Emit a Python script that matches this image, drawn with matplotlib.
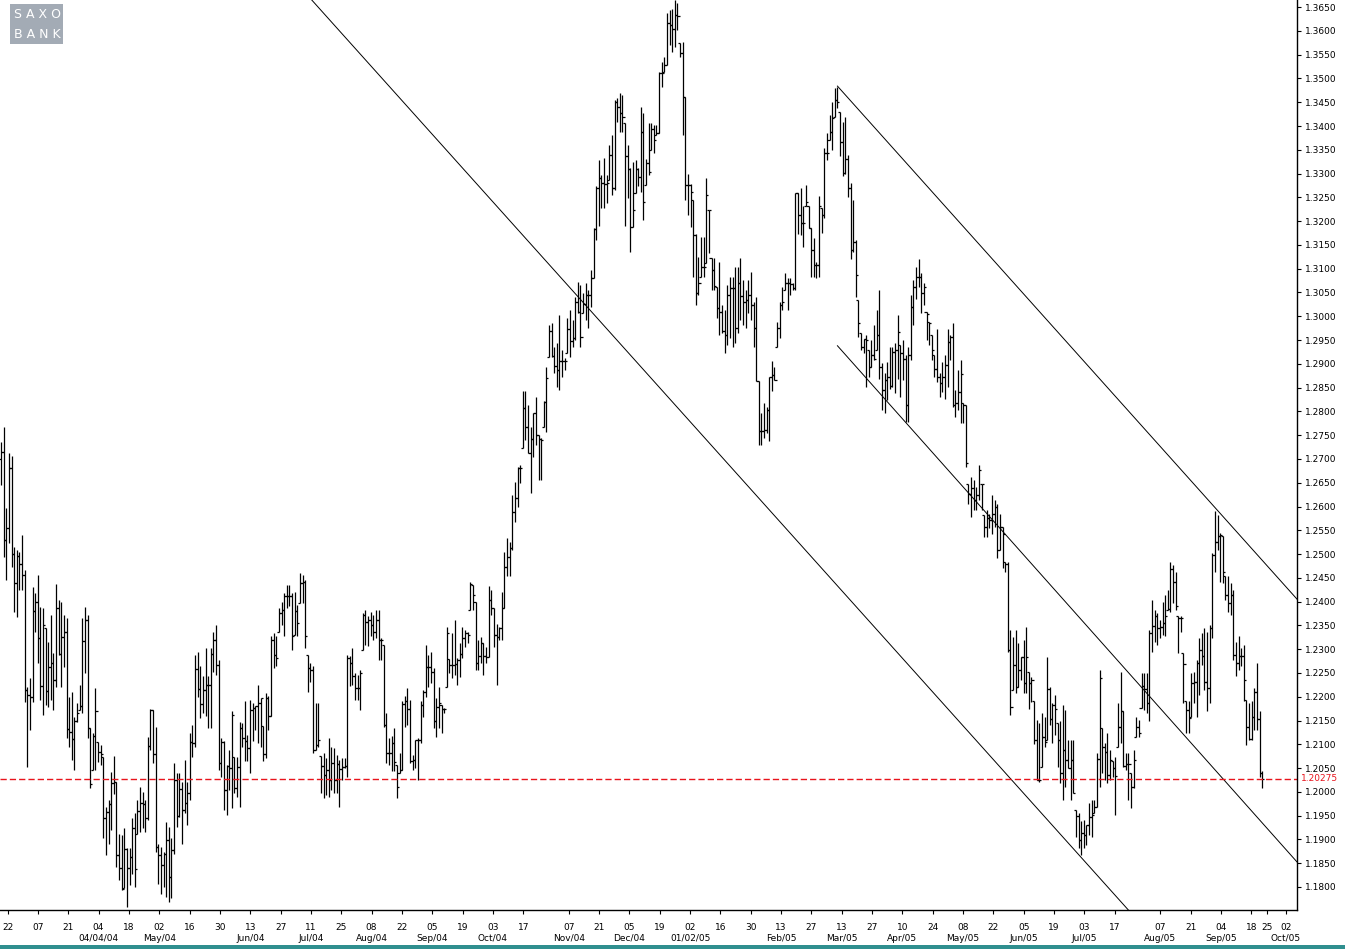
import numpy as np
import pandas as pd
import matplotlib
matplotlib.use("Agg")
import matplotlib.pyplot as plt
import matplotlib.transforms as mtransforms
from matplotlib.patches import Rectangle

# EUR/USD daily bars, in pips (price * 10000)
FIRST_BAR = "2004-02-19"
LAST_BAR = "2005-09-23"

highs = [
    12736, 12767, 12597, 12712, 12706, 12515, 12508, 12504, 12540, 12466, 12221, 12239, 12431, 12418, 12456, 12389,
    12387, 12345, 12315, 12372, 12292, 12437, 12404, 12399, 12372, 12366, 12200, 12210, 12157, 12187, 12225, 12366,
    12389, 12372, 12134, 12124, 12218, 12105, 12099,
    12074, 11968, 11982, 12042, 12075, 12021, 11912, 11909, 11923, 11883, 11881, 11944, 11955, 11982, 12010, 11999,
    11982, 12116, 12175, 12172, 12137, 11891, 11884, 11874, 11937, 11926, 11902, 12060, 12039, 12040, 12021, 12068,
    12021, 12123, 12140, 12287, 12294, 12264,
    12243, 12302, 12243, 12302, 12337, 12351, 12278, 12113, 12106, 12057, 12088, 12169, 12074, 12074, 12146, 12145,
    12190, 12120, 12194, 12187, 12180, 12225, 12197, 12138, 12208, 12201, 12327, 12334, 12327, 12386, 12400, 12418,
    12435, 12435, 12418, 12421, 12393, 12460,
    12456, 12446, 12288, 12270, 12265, 12187, 12187, 12075, 12082, 12071, 12113, 12095, 12092, 12078, 12067, 12071,
    12071, 12288, 12285, 12302, 12250, 12246, 12257, 12376, 12383, 12369, 12379, 12372, 12383, 12383, 12323, 12309,
    12166, 12113, 12117, 12134, 12057, 12081, 12190, 12201, 12218, 12193,
    12078, 12109, 12113, 12190, 12214, 12309, 12288, 12295, 12260, 12197, 12221, 12183, 12176, 12347, 12280, 12333,
    12361, 12281, 12312, 12347, 12340, 12337, 12442, 12435, 12400, 12319, 12326, 12312, 12305, 12432, 12424, 12386,
    12354, 12347, 12421, 12505, 12533, 12526, 12624, 12652, 12684, 12687,
    12842, 12842, 12814, 12768, 12796, 12831, 12751, 12744, 12822, 12894, 12982, 12985, 12936, 12943, 13003, 12929,
    12912, 12996, 13013, 12992, 13041, 13073, 13066, 13048, 13069, 13055, 13097, 13185, 13273, 13329, 13297, 13332,
    13297, 13360, 13381, 13455, 13458, 13469, 13465, 13406, 13360, 13311,
    13325, 13329, 13311, 13441, 13427, 13330, 13406, 13406, 13402, 13402, 13514, 13535, 13546, 13637, 13644, 13647,
    13665, 13658, 13574, 13577, 13462, 13300, 13279, 13244, 13174, 13125, 13167, 13167, 13290, 13223, 13122, 13122,
    13062, 13115, 13024, 13013, 13066, 13083, 13083, 13104,
    13104, 13122, 13076, 13055, 13076, 13094, 13031, 13041, 12863, 12796, 12817, 12810, 12873, 12905, 12894, 12989,
    13031, 13062, 13090, 13080, 13080, 13069, 13260, 13259, 13269, 13231, 13276, 13231, 13185, 13164, 13115, 13252,
    13227, 13353, 13385, 13423, 13451, 13479, 13483, 13430, 13409, 13420, 13340, 13280,
    13244, 13160, 13034, 12964, 12953, 12960, 12929, 12950, 12981, 13013, 13055, 12901, 12880, 12904, 12936, 12936,
    12943, 13002, 12939, 12950, 12918, 12936, 13044, 13076, 13104, 13121, 13090, 13069, 13009, 12988, 12960, 12918,
    12974, 12880, 12904, 12918, 12974, 12960, 12985,
    12845, 12887, 12908, 12817, 12813, 12648, 12663, 12655, 12641, 12687, 12648, 12582, 12592, 12585, 12624, 12613,
    12606, 12585, 12557, 12484, 12484, 12340, 12326, 12340, 12312, 12284, 12319, 12347, 12253, 12242, 12190, 12151,
    12144, 12165, 12158, 12284, 12221, 12186, 12203, 12144, 12148, 12183,
    12173, 12109, 12109, 12109, 11962, 11955, 11938, 11941, 11931, 11976, 11983, 11983, 12081, 12257, 12134, 12102,
    12123, 12088, 12064, 12074, 12187, 12253, 12169, 12081, 12081, 12039, 12088, 12158, 12151, 12250, 12250, 12250,
    12341, 12404, 12383, 12376, 12362, 12400, 12414, 12425, 12484, 12477,
    12463, 12369, 12369, 12292, 12190, 12190, 12250, 12253, 12278, 12323, 12334, 12344, 12337, 12351, 12502, 12590,
    12582, 12544, 12537, 12453, 12453, 12439, 12425, 12316, 12327, 12302, 12309, 12193, 12186, 12190, 12218, 12271,
    12169, 12043,
]

lows = [
    12645, 12494, 12446, 12523, 12473, 12378, 12368, 12424, 12424, 12189, 12052, 12130, 12189, 12336, 12271, 12193,
    12162, 12183, 12179, 12193, 12172, 12221, 12288, 12221, 12263, 12113, 12095, 12067, 12046, 12147, 12172, 12166,
    12250, 12113, 12008, 12046, 12046, 12063, 12057,
    11902, 11867, 11891, 11919, 11996, 11842, 11814, 11793, 11797, 11758, 11804, 11828, 11800, 11912, 11916, 11923,
    11916, 11940, 12088, 12060, 11874, 11807, 11786, 11800, 11779, 11769, 11776, 11870, 11926, 11948, 11891, 11955,
    11930, 11982, 12074, 12095, 12200, 12155,
    12165, 12159, 12134, 12134, 12253, 12246, 12046, 12032, 11962, 11952, 12004, 11966, 11997, 11990, 11969, 12095,
    12064, 12064, 12039, 12106, 12130, 12102, 12095, 12064, 12071, 12130, 12159, 12260, 12264, 12337, 12351, 12327,
    12386, 12390, 12299, 12330, 12327, 12397,
    12397, 12302, 12211, 12230, 12081, 12088, 12095, 11997, 11987, 11994, 11990, 12004, 11997, 11997, 11969, 12025,
    12050, 12032, 12222, 12225, 12194, 12194, 12173, 12299, 12309, 12306, 12327, 12320, 12323, 12278, 12278, 12137,
    12060, 12057, 12043, 12043, 11987, 12039, 12046, 12137, 12141, 12060,
    12046, 12050, 12025, 12102, 12158, 12200, 12221, 12228, 12134, 12116, 12134, 12123, 12165, 12221, 12249, 12239,
    12246, 12225, 12242, 12281, 12305, 12312, 12382, 12382, 12256, 12256, 12270, 12246, 12270, 12284, 12372, 12305,
    12225, 12319, 12319, 12386, 12453, 12453, 12508, 12568, 12600, 12650,
    12722, 12740, 12713, 12628, 12705, 12730, 12656, 12656, 12768, 12757, 12915, 12915, 12880, 12852, 12845, 12873,
    12887, 12922, 12915, 12936, 12950, 13006, 12936, 13006, 12992, 12975, 13020, 13080, 13161, 13189, 13227, 13227,
    13238, 13287, 13255, 13266, 13409, 13388, 13388, 13189, 13248, 13136,
    13188, 13259, 13273, 13262, 13202, 13276, 13297, 13350, 13343, 13381, 13385, 13483, 13514, 13528, 13570, 13556,
    13567, 13602, 13546, 13381, 13244, 13213, 13188, 13083, 13024, 13045, 13083, 13083, 13111, 13132, 13055, 13055,
    12996, 12961, 12964, 12922, 12940, 12954, 12936, 12943,
    12964, 12992, 12982, 12975, 13006, 12992, 12936, 12863, 12730, 12730, 12744, 12754, 12737, 12842, 12866, 12936,
    12954, 13013, 13055, 13013, 13045, 13055, 13055, 13174, 13171, 13146, 13231, 13185, 13083, 13083, 13080, 13083,
    13175, 13206, 13329, 13371, 13350, 13420, 13437, 13336, 13294, 13300, 13250, 13120,
    13135, 13040, 12957, 12929, 12922, 12852, 12873, 12894, 12908, 12929, 12869, 12803, 12796, 12824, 12848, 12852,
    12838, 12869, 12831, 12866, 12778, 12778, 12908, 12981, 13037, 13062, 13006, 13023, 12950, 12939, 12908, 12873,
    12862, 12831, 12841, 12827, 12852, 12908, 12810,
    12789, 12803, 12775, 12775, 12684, 12606, 12578, 12592, 12592, 12613, 12592, 12536, 12536, 12554, 12543, 12557,
    12491, 12508, 12470, 12463, 12294, 12161, 12214, 12207, 12221, 12235, 12207, 12207, 12175, 12189, 12100, 12025,
    12021, 12053, 12095, 12109, 12141, 12102, 12119, 12053, 12018, 11983,
    12011, 12050, 11983, 11997, 11906, 11882, 11868, 11882, 11889, 11910, 11906, 11955, 11969, 12011, 12039, 12025,
    12018, 12025, 12032, 11952, 12095, 12102, 12053, 12046, 11983, 11966, 12008, 12116, 12116, 12176, 12172, 12166,
    12148, 12295, 12316, 12309, 12323, 12330, 12327, 12383, 12379, 12397,
    12383, 12292, 12337, 12186, 12123, 12123, 12158, 12186, 12158, 12204, 12267, 12214, 12169, 12186, 12323, 12463,
    12509, 12442, 12439, 12404, 12379, 12372, 12278, 12243, 12257, 12264, 12190, 12099, 12109, 12109, 12130, 12130,
    12032, 12008,
]

opens = [
    12700, 12715, 12530, 12555, 12680, 12500, 12440, 12495, 12480, 12455, 12214, 12204, 12200, 12380, 12400, 12324,
    12223, 12345, 12212, 12263, 12271, 12235, 12387, 12290, 12326, 12336, 12132, 12126, 12111, 12150, 12172, 12180,
    12317, 12361, 12134, 12046, 12118, 12105, 12084,
    12074, 11944, 11958, 11975, 12018, 12021, 11867, 11839, 11797, 11880, 11839, 11863, 11923, 11912, 11959, 11977,
    11975, 11944, 12097, 12172, 12079, 11884, 11867, 11846, 11869, 11898, 11820, 11877, 12025, 11949, 12005, 11961,
    11977, 11998, 12105, 12103, 12259, 12217,
    12185, 12215, 12225, 12225, 12290, 12320, 12267, 12060, 12104, 12004, 12055, 12050, 12074, 12009, 12053, 12134,
    12113, 12106, 12092, 12173, 12176, 12180, 12187, 12138, 12079, 12197, 12159, 12320, 12288, 12337, 12376, 12383,
    12412, 12411, 12411, 12330, 12381, 12397,
    12439, 12442, 12288, 12260, 12257, 12088, 12099, 12075, 12055, 12036, 12045, 12025, 12061, 12025, 12059, 12048,
    12052, 12055, 12281, 12271, 12243, 12218, 12218, 12299, 12372, 12358, 12362, 12351, 12337, 12362, 12320, 12309,
    12141, 12081, 12081, 12103, 12057, 12039, 12046, 12185, 12190, 12174,
    12065, 12067, 12108, 12108, 12183, 12211, 12262, 12262, 12253, 12148, 12179, 12183, 12174, 12221, 12280, 12267,
    12267, 12269, 12277, 12290, 12323, 12333, 12382, 12435, 12400, 12270, 12286, 12312, 12286, 12284, 12403, 12386,
    12330, 12326, 12344, 12386, 12473, 12494, 12512, 12589, 12617, 12682,
    12722, 12807, 12768, 12713, 12741, 12796, 12751, 12741, 12768, 12819, 12915, 12968, 12917, 12896, 12887, 12905,
    12905, 12922, 12973, 12947, 12954, 13029, 13010, 13006, 13026, 13045, 13045, 13080, 13183, 13269, 13290, 13280,
    13278, 13287, 13339, 13269, 13451, 13441, 13427, 13406, 13336, 13309,
    13188, 13259, 13309, 13292, 13388, 13276, 13322, 13350, 13393, 13381, 13385, 13511, 13514, 13528, 13616, 13612,
    13605, 13633, 13574, 13553, 13462, 13276, 13276, 13244, 13171, 13048, 13083, 13104, 13111, 13223, 13122, 13097,
    13062, 13017, 13010, 12970, 12961, 13045, 13059, 13059,
    12975, 13069, 13043, 13031, 13034, 13045, 13024, 12975, 12863, 12758, 12758, 12761, 12803, 12873, 12877, 12936,
    12975, 13024, 13055, 13069, 13069, 13068, 13059, 13259, 13213, 13196, 13231, 13231, 13185, 13140, 13108, 13108,
    13227, 13213, 13343, 13371, 13388, 13420, 13455, 13430, 13367, 13301, 13330, 13270,
    13140, 13156, 13034, 12964, 12936, 12953, 12929, 12894, 12918, 12929, 12960, 12894, 12845, 12867, 12873, 12853,
    12925, 12929, 12939, 12922, 12911, 12813, 12918, 13020, 13062, 13083, 13083, 13048, 13009, 12988, 12960, 12918,
    12890, 12873, 12859, 12873, 12897, 12946, 12957,
    12813, 12817, 12841, 12817, 12813, 12648, 12627, 12638, 12613, 12624, 12648, 12582, 12557, 12575, 12571, 12585,
    12599, 12508, 12557, 12484, 12480, 12298, 12214, 12267, 12221, 12256, 12284, 12229, 12253, 12228, 12190, 12110,
    12025, 12053, 12116, 12109, 12217, 12154, 12182, 12144, 12109, 12039,
    12087, 12066, 12050, 12067, 11962, 11950, 11899, 11913, 11910, 11931, 11948, 11955, 11969, 12069, 12134, 12094,
    12083, 12036, 12064, 12050, 12095, 12137, 12169, 12055, 12059, 12039, 12011, 12116, 12136, 12176, 12222, 12216,
    12187, 12334, 12348, 12369, 12344, 12346, 12355, 12383, 12384, 12468,
    12442, 12369, 12365, 12292, 12190, 12172, 12158, 12229, 12232, 12271, 12299, 12285, 12232, 12218, 12344, 12498,
    12526, 12537, 12537, 12453, 12414, 12397, 12414, 12288, 12271, 12285, 12285, 12193, 12137, 12111, 12158, 12211,
    12153, 12039,
]

closes = [
    12715, 12530, 12555, 12680, 12500, 12440, 12495, 12480, 12455, 12214, 12204, 12200, 12380, 12400, 12324, 12223,
    12351, 12212, 12263, 12271, 12235, 12387, 12290, 12326, 12336, 12132, 12126, 12111, 12150, 12165, 12180, 12317,
    12361, 12134, 12017, 12118, 12170, 12084, 12080,
    11944, 11958, 11975, 12018, 12021, 11867, 11839, 11795, 11880, 11839, 11863, 11923, 11837, 11959, 11977, 11975,
    11944, 12097, 12172, 12079, 11884, 11867, 11846, 11869, 11898, 11820, 11877, 12025, 11949, 12005, 11961, 11977,
    11998, 12105, 12103, 12259, 12217, 12185,
    12215, 12225, 12225, 12290, 12320, 12267, 12060, 12104, 12004, 12055, 12050, 12162, 12009, 12053, 12134, 12113,
    12106, 12092, 12173, 12176, 12180, 12187, 12197, 12079, 12197, 12159, 12320, 12288, 12281, 12376, 12383, 12412,
    12411, 12411, 12327, 12381, 12355, 12439,
    12442, 12328, 12260, 12257, 12088, 12099, 12110, 12055, 12036, 12045, 12025, 12061, 12025, 12059, 12048, 12052,
    12055, 12281, 12271, 12243, 12218, 12218, 12250, 12372, 12358, 12362, 12351, 12337, 12362, 12320, 12320, 12141,
    12081, 12081, 12103, 12062, 12011, 12046, 12185, 12190, 12174, 12065,
    12067, 12108, 12108, 12183, 12211, 12262, 12262, 12253, 12148, 12179, 12186, 12174, 12174, 12335, 12267, 12267,
    12269, 12277, 12290, 12323, 12333, 12330, 12437, 12414, 12270, 12286, 12312, 12286, 12284, 12403, 12386, 12330,
    12326, 12344, 12386, 12473, 12494, 12512, 12589, 12617, 12682, 12680,
    12807, 12768, 12713, 12741, 12796, 12751, 12741, 12740, 12819, 12871, 12968, 12917, 12896, 12887, 12905, 12905,
    12905, 12973, 12947, 12954, 13029, 13010, 12957, 13026, 13045, 13045, 13080, 13183, 13269, 13290, 13280, 13278,
    13280, 13339, 13269, 13451, 13441, 13427, 13420, 13336, 13309, 13188,
    13223, 13309, 13292, 13388, 13241, 13322, 13304, 13393, 13371, 13385, 13511, 13511, 13528, 13616, 13612, 13605,
    13633, 13631, 13553, 13462, 13276, 13276, 13262, 13171, 13048, 13069, 13104, 13104, 13255, 13223, 13097, 13064,
    13017, 13010, 12970, 12961, 13045, 13059, 13059, 12975,
    13069, 13043, 13031, 13034, 13045, 13024, 12975, 12863, 12758, 12758, 12761, 12803, 12873, 12877, 12866, 12975,
    13024, 13031, 13069, 13069, 13068, 13059, 13259, 13213, 13196, 13196, 13241, 13185, 13140, 13108, 13108, 13231,
    13213, 13343, 13343, 13388, 13416, 13455, 13451, 13367, 13301, 13330, 13270, 13140,
    13156, 13086, 12985, 12936, 12953, 12950, 12894, 12918, 12911, 12960, 12894, 12845, 12867, 12873, 12853, 12925,
    12929, 12967, 12922, 12911, 12813, 12918, 13020, 13062, 13083, 13083, 13048, 13062, 13004, 12985, 12929, 12890,
    12873, 12859, 12873, 12897, 12946, 12957, 12813,
    12817, 12841, 12878, 12813, 12691, 12627, 12638, 12613, 12624, 12677, 12648, 12557, 12575, 12571, 12585, 12599,
    12508, 12557, 12543, 12480, 12298, 12179, 12267, 12221, 12256, 12284, 12229, 12284, 12228, 12235, 12110, 12025,
    12025, 12116, 12105, 12217, 12154, 12182, 12175, 12109, 12039, 12087,
    12066, 12050, 12067, 11997, 11950, 11899, 11913, 11910, 11931, 11948, 11952, 11969, 12069, 12239, 12094, 12083,
    12036, 12067, 12050, 12034, 12137, 12169, 12055, 12059, 12059, 12011, 12067, 12136, 12123, 12222, 12216, 12187,
    12334, 12348, 12369, 12344, 12346, 12355, 12369, 12384, 12468, 12442,
    12390, 12365, 12365, 12269, 12172, 12155, 12229, 12232, 12271, 12299, 12285, 12232, 12218, 12344, 12498, 12526,
    12537, 12540, 12463, 12414, 12397, 12414, 12288, 12271, 12285, 12285, 12236, 12137, 12111, 12158, 12211, 12153,
    12039, 12027,
]

# x axis: fortnightly Sunday ticks and the month captions under them
tick_dates = [
    "2004-02-22", "2004-03-07", "2004-03-21", "2004-04-04", "2004-04-18", "2004-05-02", "2004-05-16",
    "2004-05-30", "2004-06-13", "2004-06-27", "2004-07-11", "2004-07-25", "2004-08-08", "2004-08-22",
    "2004-09-05", "2004-09-19", "2004-10-03", "2004-10-17", "2004-11-07", "2004-11-21", "2004-12-05",
    "2004-12-19", "2005-01-02", "2005-01-16", "2005-01-30", "2005-02-13", "2005-02-27", "2005-03-13",
    "2005-03-27", "2005-04-10", "2005-04-24", "2005-05-08", "2005-05-22", "2005-06-05", "2005-06-19",
    "2005-07-03", "2005-07-17", "2005-08-07", "2005-08-21", "2005-09-04", "2005-09-18", "2005-09-25",
    "2005-10-02",
]
month_dates = [
    "2004-04-04", "2004-05-02", "2004-06-13", "2004-07-11", "2004-08-08", "2004-09-05", "2004-10-03",
    "2004-11-07", "2004-12-05", "2005-01-02", "2005-02-13", "2005-03-13", "2005-04-10", "2005-05-08",
    "2005-06-05", "2005-07-03", "2005-08-07", "2005-09-04", "2005-10-02",
]
month_labels = [
    "04/04/04", "May/04", "Jun/04", "Jul/04", "Aug/04", "Sep/04", "Oct/04", "Nov/04", "Dec/04",
    "01/02/05", "Feb/05", "Mar/05", "Apr/05", "May/05", "Jun/05", "Jul/05", "Aug/05", "Sep/05", "Oct/05",
]

LAST_PRICE = 1.20275

# trend lines as (date, price) anchor pairs; mode says how far they run
trend_lines = [
    (("2004-07-11", 1.3667), ("2005-07-22", 1.1758), "both"),
    (("2005-03-11", 1.3484), ("2005-09-01", 1.2599), "right"),
    (("2005-03-11", 1.2938), ("2005-09-23", 1.1935), "right"),
]

o = np.array(opens) / 10000
h = np.array(highs) / 10000
l = np.array(lows) / 10000
c = np.array(closes) / 10000
n = len(c)
x = np.arange(n)

first = pd.Timestamp(FIRST_BAR)
last = pd.Timestamp(LAST_BAR)
span = (last - first).days


def date_x(d):
    # bars sit at even steps; after the last bar the axis runs on calendar days
    d = pd.Timestamp(d)
    if d <= last:
        return (d - first).days / span * (n - 1)
    return (n - 1) + (d - last).days


fig = plt.figure(figsize=(13.45, 9.49), dpi=100)
ax = fig.add_axes([0.0, 1 - 910 / 949, 1297 / 1345, 910 / 949])

lw = 0.9
ax.vlines(x, l, h, color="black", lw=lw)
ax.hlines(o, x - 0.8, x, color="black", lw=lw)
ax.hlines(c, x, x + 0.8, color="black", lw=lw)

x_right = (n - 1) + 13.3
ax.set_xlim(-0.4, x_right)
ax.set_ylim(1.17516, 1.3665)

# trend lines
for (d0, p0), (d1, p1), mode in trend_lines:
    x0, x1 = date_x(d0), date_x(d1)
    slope = (p1 - p0) / (x1 - x0)
    xs = np.array([-50 if mode == "both" else x0, x_right + 5])
    ax.plot(xs, p0 + slope * (xs - x0), color="black", lw=0.7)

ax.axhline(LAST_PRICE, color="#e8141c", lw=1.0, ls=(0, (4.5, 2.2)))

# axes styling
for side in ("top", "left"):
    ax.spines[side].set_visible(False)
ax.spines["bottom"].set_linewidth(1.0)
ax.spines["right"].set_linewidth(1.0)

ax.yaxis.tick_right()
yt = np.arange(11800, 13651, 50) / 10000
ax.set_yticks(yt)
ax.set_yticklabels([f"{v:.4f}" for v in yt])
ax.tick_params(axis="y", direction="out", length=3, width=0.8, pad=3,
               labelsize=6.5, colors="black")

ax.set_xticks([date_x(d) for d in tick_dates])
ax.set_xticklabels([pd.Timestamp(d).strftime("%d") for d in tick_dates])
ax.tick_params(axis="x", direction="out", length=3, width=0.8, pad=6, labelsize=6.5)

trans = mtransforms.blended_transform_factory(ax.transData, ax.transAxes)
for d, lab in zip(month_dates, month_labels):
    ax.text(date_x(d), -0.031, lab, transform=trans, ha="center", va="center",
            fontsize=6.5, clip_on=False)

# last price tag on the price scale
ax.text(1.003, LAST_PRICE, f"{LAST_PRICE:.5f}", transform=mtransforms.blended_transform_factory(
    ax.transAxes, ax.transData), color="#e8141c", fontsize=6.5, va="center", ha="left",
    clip_on=False, bbox=dict(facecolor="white", edgecolor="none", pad=0.5))

# logo
fig.patches.append(Rectangle((10 / 1345, 1 - 44 / 949), 53 / 1345, 40 / 949,
                             transform=fig.transFigure, facecolor="#a3abb5", edgecolor="none"))
fig.text(37 / 1345, 1 - 14 / 949, "S A X O", color="white", fontsize=9,
         ha="center", va="center")
fig.text(37 / 1345, 1 - 34 / 949, "B A N K", color="white", fontsize=9,
         ha="center", va="center")

# bottom band
fig.patches.append(Rectangle((0, 0), 1, 4 / 949, transform=fig.transFigure,
                             facecolor="#2f8f8f", edgecolor="none"))

fig.savefig("out.png", dpi=100)
